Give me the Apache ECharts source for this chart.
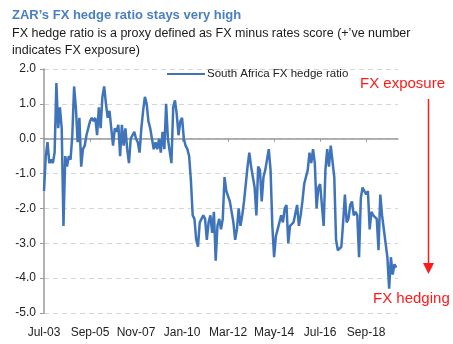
<!DOCTYPE html>
<html>
<head>
<meta charset="utf-8">
<script src="https://cdn.jsdelivr.net/npm/echarts@6/dist/echarts.min.js"></script>
<style>
html,body{margin:0;padding:0;background:#fff;}
#c{width:453px;height:344px;}
</style>
</head>
<body>
<div id="c"></div>
<script>
// Monthly categories Jul-03 .. Mar-20
var startYear = 2003, startMonth = 6, monthCount = 201;
var monthNames = ['Jan','Feb','Mar','Apr','May','Jun','Jul','Aug','Sep','Oct','Nov','Dec'];
var categories = [];
for (var k = 0; k < monthCount; k++) {
  var m = (startMonth + k) % 12;
  var y = startYear + Math.floor((startMonth + k) / 12);
  categories.push(monthNames[m] + '-' + String(y % 100).padStart(2, '0'));
}

var hedgeRatio = [
 -1.5,-0.5,-0.1,-0.7,-0.6,-0.7,-0.4,1.6,0.3,0.9,
 0.3,-2.5,-0.5,-0.8,-0.5,-0.6,0.1,1.5,0.9,-0.1,
 0.6,-0.8,-0.3,-0.2,0.1,0.3,0.5,0.6,0.5,0.6,
 0.1,0.9,0.3,1.2,1.5,1.0,0.6,0.8,0.3,-0.2,
 0.3,0.2,0.4,-0.5,0.4,-0.2,0.3,-0.3,-0.7,0.0,
 0.1,0.2,0.0,-0.1,-0.4,0.3,0.8,1.2,1.0,0.5,
 0.3,0.0,-0.3,-0.1,-0.3,0.0,-0.4,0.2,-0.3,1.0,
 0.0,0.0,-0.7,0.9,1.1,0.7,0.1,0.5,0.6,0.0,
 -0.2,-0.3,-0.5,-1.2,-2.2,-2.3,-2.9,-3.1,-2.4,-2.4,
 -2.2,-2.3,-2.9,-2.4,-2.2,-2.7,-2.1,-3.5,-2.5,-2.3,
 -2.6,-2.3,-1.1,-1.5,-1.65,-1.8,-2.1,-2.4,-2.9,-2.6,
 -2.0,-2.5,-2.2,-1.8,-1.3,-0.8,-0.4,-0.8,-1.1,-1.4,
 -2.2,-0.8,-0.9,-1.8,-1.1,-0.9,-0.6,-0.3,-0.9,-2.5,
 -3.4,-2.8,-2.6,-2.6,-2.2,-2.4,-2.0,-1.9,-3.0,-2.5,
 -2.5,-2.4,-2.4,-1.9,-2.5,-2.2,-1.8,-1.3,-1.1,-0.9,
 -0.4,-0.7,-0.3,-0.7,-2.0,-1.4,-1.3,-1.3,-2.5,-0.9,
 -0.3,-0.8,-0.2,-0.2,-1.1,-2.9,-3.2,-3.2,-3.1,-2.4,
 -1.6,-2.4,-2.3,-1.9,-1.8,-2.2,-2.1,-2.2,-3.4,-1.7,
 -1.4,-1.5,-1.6,-1.5,-2.6,-2.1,-2.2,-2.2,-2.3,-3.2,
 -1.6,-2.2,-2.6,-3.0,-3.4,-4.3,-3.4,-3.9,-3.6,-3.7
];

var yMin = -5, yMax = 2, yInterval = 1;
var labelEvery = 26;

var chart = echarts.init(document.getElementById('c'), null, {renderer: 'canvas'});
var font = 'Liberation Sans, Arial, sans-serif';
var red = '#ff1a1a';
chart.setOption({
  animation: false,
  backgroundColor: '#fff',
  title: [{
    text: "ZAR\u2019s FX hedge ratio stays very high",
    left: 7, top: 4,
    textStyle: {fontFamily: font, fontSize: 13, fontWeight: 'bold', color: '#4a80c2'}
  }, {
    text: "FX hedge ratio is a proxy defined as FX minus rates score (+\u2019ve number\nindicates FX exposure)",
    left: 7, top: 20,
    textStyle: {fontFamily: font, fontSize: 12.5, fontWeight: 'normal', color: '#1a1a1a', lineHeight: 17}
  }],
  legend: {
    left: 162, top: 63,
    itemWidth: 38, itemHeight: 12, itemGap: 2,
    icon: 'path://M0,5 L38,5 L38,7 L0,7 Z',
    data: ['South Africa FX hedge ratio'],
    textStyle: {fontFamily: font, fontSize: 11.5, color: '#222', padding: [0,0,0,-3]}
  },
  grid: {left: 44, right: 55, top: 69, bottom: 31},
  xAxis: [{
    type: 'category', data: categories, boundaryGap: false,
    axisLine: {onZero: true, lineStyle: {color: '#999', width: 1.5}},
    axisTick: {show: true, interval: labelEvery - 1, length: 3, lineStyle: {color: '#999'}},
    axisLabel: {show: false},
    splitLine: {show: false}
  }, {
    type: 'category', data: categories, boundaryGap: false, position: 'bottom',
    axisLine: {show: false, onZero: false},
    axisTick: {show: false},
    axisLabel: {
      interval: labelEvery - 1, margin: 14,
      fontFamily: font, fontSize: 12, color: '#222'
    },
    splitLine: {show: false}
  }],
  yAxis: {
    type: 'value', min: yMin, max: yMax, interval: yInterval,
    axisLine: {show: true, lineStyle: {color: '#999', width: 1.5}},
    axisTick: {show: true, length: 4, lineStyle: {color: '#999'}},
    axisLabel: {fontFamily: font, fontSize: 12, color: '#222', margin: 8,
      formatter: function (v) { return v.toFixed(1); }},
    splitLine: {show: true, lineStyle: {color: '#d5d5d5', type: [5, 4], width: 1}}
  },
  series: [{
    name: 'South Africa FX hedge ratio',
    type: 'line', data: hedgeRatio, xAxisIndex: 0,
    showSymbol: false, symbol: 'none',
    lineStyle: {color: '#3f74ba', width: 2.5},
    itemStyle: {color: '#3f74ba'}
  }],
  graphic: [
    {type: 'text', left: 360, top: 76,
      style: {text: 'FX exposure', fill: red, font: '15px ' + font}},
    {type: 'line', shape: {x1: 428.5, y1: 99, x2: 428.5, y2: 265},
      style: {stroke: red, lineWidth: 1.5}},
    {type: 'polygon', shape: {points: [[423, 263], [434, 263], [428.5, 274]]},
      style: {fill: red}},
    {type: 'text', left: 373, top: 291,
      style: {text: 'FX hedging', fill: red, font: '15px ' + font}}
  ]
});
</script>
</body>
</html>
